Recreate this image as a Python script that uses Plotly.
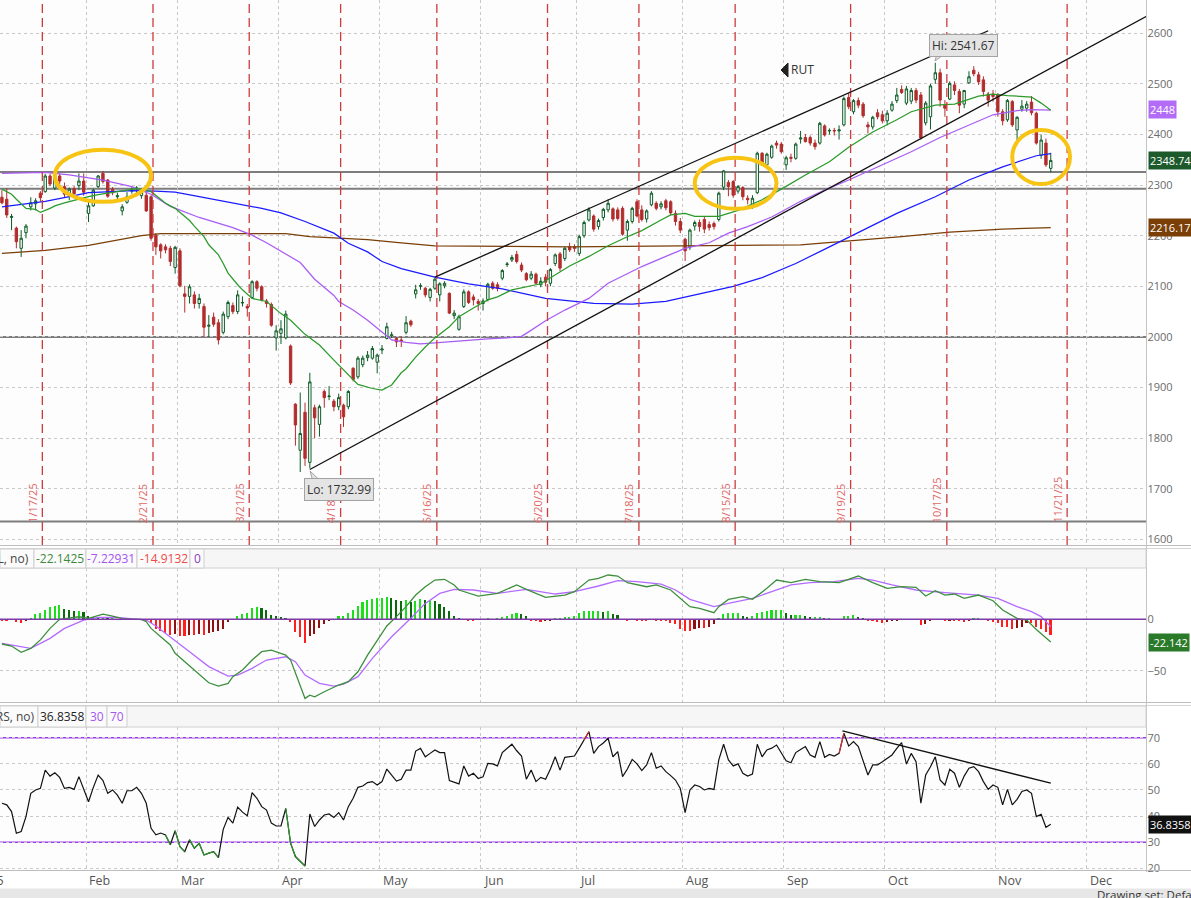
import pandas as pd
import plotly.graph_objects as go

W, H = 1191, 898          # reference picture size (all layout below is measured in these pixels)
FIG_H = 903               # rendered page height (the capture is scaled back to 898)
XR = 1146.5 / W

# ---------------- calendar (trading days) ----------------
HOLIDAYS = {"2025-01-01", "2025-01-09", "2025-01-20", "2025-02-17", "2025-04-18", "2025-05-26",
            "2025-06-19", "2025-07-04", "2025-09-01", "2025-11-27", "2025-12-25", "2026-01-01",
            "2026-01-19"}
cal = [d for d in pd.bdate_range("2025-01-02", "2026-01-30") if d.strftime("%Y-%m-%d") not in HOLIDAYS]
cal_str = [d.strftime("%Y-%m-%d") for d in cal]
B0 = cal_str.index("2025-01-17")   # bar 0 = 1/17/25


def at(date):
    d = pd.Timestamp(date)
    return max(i for i, c in enumerate(cal) if c <= d)


def fx(px):
    return px / W


def fy(py):
    return 1 - py / H


# ---------------- price data (bars -9 .. 210, Jan 3 .. Nov 18 2025) ----------------
first_bar = -9
opens = [2240, 2276, 2272, 2236, 2215, 2175, 2206, 2257, 2263, 2284,
         2287, 2318, 2294, 2318, 2297, 2282, 2293, 2299, 2308, 2244,
         2259, 2297, 2323, 2310, 2292, 2277, 2249, 2266, 2288, 2292,
         2279, 2280, 2277, 2201, 2182, 2178, 2175, 2137, 2170, 2085,
         2080, 2083, 2066, 2060, 2021, 2039, 2028, 2009, 2040, 2062,
         2050, 2067, 2060, 2078, 2109, 2099, 2071, 2064, 1998, 2007,
         1998, 1982, 1867, 1776, 1851, 1752, 1860, 1827, 1892, 1882,
         1873, 1862, 1865, 1862, 1938, 1921, 1945, 1959, 1958, 1950,
         1974, 1997, 2002, 1997, 1994, 2009, 2031, 2085, 2100, 2096,
         2078, 2096, 2083, 2101, 2086, 2042, 2015, 2060, 2089, 2079,
         2070, 2066, 2074, 2106, 2103, 2116, 2143, 2152, 2163, 2142,
         2125, 2116, 2124, 2103, 2118, 2106, 2145, 2164, 2155, 2178,
         2178, 2165, 2200, 2231, 2239, 2218, 2236, 2251, 2253, 2251,
         2254, 2211, 2228, 2267, 2251, 2233, 2261, 2264, 2257, 2269,
         2267, 2244, 2228, 2193, 2178, 2219, 2226, 2232, 2222, 2224,
         2232, 2296, 2305, 2307, 2288, 2295, 2274, 2257, 2285, 2363,
         2340, 2355, 2383, 2381, 2340, 2355, 2353, 2391, 2394, 2394,
         2383, 2383, 2417, 2407, 2408, 2407, 2419, 2473, 2445, 2467,
         2460, 2419, 2415, 2443, 2439, 2427, 2448, 2467, 2489, 2462,
         2466, 2487, 2478, 2423, 2435, 2509, 2522, 2458, 2470, 2498,
         2485, 2460, 2502, 2527, 2518, 2508, 2480, 2480, 2479, 2445,
         2429, 2465, 2409, 2450, 2452, 2464, 2442, 2359, 2383, 2333]
highs = [2272, 2290, 2294, 2243, 2218, 2211, 2223, 2276, 2274, 2288,
         2322, 2322, 2318, 2322, 2305, 2295, 2298, 2323, 2323, 2270,
         2293, 2320, 2328, 2312, 2296, 2285, 2262, 2286, 2296, 2298,
         2290, 2287, 2280, 2205, 2185, 2183, 2180, 2180, 2175, 2101,
         2104, 2090, 2085, 2066, 2043, 2048, 2035, 2050, 2072, 2068,
         2092, 2080, 2065, 2112, 2112, 2102, 2075, 2068, 2023, 2033,
         2052, 1985, 1869, 1890, 1870, 1929, 1866, 1866, 1896, 1903,
         1877, 1888, 1868, 1895, 1940, 1962, 1963, 1972, 1982, 1967,
         1984, 2028, 2010, 2000, 2000, 2041, 2034, 2103, 2106, 2099,
         2097, 2118, 2108, 2110, 2088, 2053, 2044, 2094, 2092, 2084,
         2075, 2076, 2107, 2110, 2108, 2134, 2148, 2162, 2170, 2147,
         2128, 2130, 2127, 2118, 2124, 2136, 2165, 2168, 2178, 2186,
         2183, 2202, 2230, 2256, 2242, 2234, 2255, 2272, 2256, 2256,
         2258, 2232, 2257, 2272, 2260, 2252, 2288, 2268, 2268, 2273,
         2270, 2250, 2235, 2196, 2214, 2230, 2232, 2238, 2228, 2228,
         2287, 2330, 2310, 2310, 2300, 2298, 2280, 2280, 2366, 2365,
         2364, 2380, 2388, 2385, 2358, 2362, 2384, 2407, 2401, 2398,
         2390, 2425, 2420, 2412, 2413, 2418, 2475, 2482, 2470, 2473,
         2464, 2425, 2437, 2450, 2447, 2448, 2466, 2492, 2497, 2496,
         2492, 2492, 2484, 2466, 2500, 2541.67, 2530, 2468, 2505, 2505,
         2490, 2488, 2525, 2535, 2524, 2515, 2484, 2488, 2482, 2450,
         2470, 2468, 2436, 2468, 2466, 2476, 2445, 2400, 2392, 2364]
lows = [2236, 2262, 2235, 2211, 2175, 2158, 2195, 2250, 2250, 2268,
        2285, 2298, 2290, 2300, 2275, 2270, 2277, 2290, 2279, 2227,
        2257, 2294, 2303, 2275, 2280, 2268, 2240, 2263, 2283, 2278,
        2273, 2247, 2190, 2162, 2155, 2165, 2140, 2125, 2098, 2048,
        2066, 2056, 2056, 2000, 2000, 2020, 1985, 2005, 2035, 2045,
        2045, 2060, 2040, 2075, 2090, 2070, 2058, 2020, 1973, 1986,
        1995, 1905, 1785, 1733, 1745, 1740, 1800, 1803, 1860, 1875,
        1853, 1855, 1822, 1857, 1912, 1917, 1940, 1952, 1955, 1928,
        1966, 1995, 1998, 1980, 1980, 2005, 2020, 2076, 2093, 2078,
        2070, 2093, 2070, 2096, 2045, 2035, 2012, 2057, 2065, 2062,
        2052, 2052, 2070, 2093, 2090, 2112, 2138, 2148, 2145, 2128,
        2110, 2112, 2104, 2098, 2100, 2100, 2140, 2130, 2150, 2168,
        2168, 2160, 2196, 2228, 2208, 2212, 2230, 2246, 2228, 2230,
        2200, 2190, 2224, 2236, 2228, 2226, 2258, 2250, 2252, 2250,
        2240, 2220, 2205, 2150, 2172, 2210, 2208, 2205, 2210, 2212,
        2228, 2290, 2278, 2275, 2283, 2270, 2262, 2253, 2282, 2338,
        2336, 2352, 2372, 2362, 2330, 2345, 2350, 2382, 2384, 2378,
        2370, 2380, 2396, 2400, 2398, 2390, 2416, 2450, 2440, 2452,
        2433, 2402, 2410, 2430, 2422, 2418, 2445, 2462, 2480, 2458,
        2460, 2462, 2390, 2418, 2410, 2500, 2455, 2435, 2468, 2478,
        2442, 2452, 2500, 2515, 2498, 2475, 2455, 2465, 2435, 2418,
        2425, 2415, 2385, 2445, 2445, 2438, 2380, 2352, 2336, 2325]
closes = [2268, 2265, 2241, 2238, 2188, 2195, 2219, 2265, 2269, 2275,
          2318, 2302, 2315, 2308, 2282, 2292, 2283, 2308, 2286, 2259,
          2290, 2318, 2307, 2278, 2285, 2279, 2257, 2277, 2291, 2294,
          2286, 2249, 2195, 2178, 2170, 2172, 2149, 2177, 2101, 2080,
          2099, 2066, 2076, 2019, 2023, 2025, 1994, 2045, 2068, 2050,
          2083, 2068, 2057, 2109, 2096, 2073, 2066, 2023, 2012, 2016,
          2045, 1909, 1826, 1809, 1760, 1911, 1840, 1862, 1880, 1883,
          1862, 1880, 1842, 1892, 1916, 1958, 1958, 1964, 1977, 1964,
          1976, 2020, 2004, 1990, 1991, 2028, 2024, 2093, 2101, 2083,
          2094, 2114, 2105, 2106, 2047, 2047, 2040, 2089, 2068, 2073,
          2066, 2071, 2104, 2096, 2096, 2131, 2144, 2157, 2149, 2132,
          2113, 2124, 2106, 2110, 2108, 2133, 2162, 2136, 2175, 2172,
          2175, 2198, 2226, 2251, 2213, 2230, 2252, 2264, 2233, 2234,
          2203, 2228, 2254, 2239, 2232, 2249, 2284, 2254, 2263, 2255,
          2245, 2228, 2211, 2170, 2211, 2226, 2218, 2213, 2216, 2218,
          2284, 2328, 2297, 2280, 2297, 2277, 2271, 2274, 2363, 2340,
          2361, 2377, 2379, 2366, 2354, 2353, 2381, 2393, 2386, 2383,
          2376, 2422, 2399, 2408, 2407, 2409, 2471, 2455, 2467, 2458,
          2437, 2415, 2434, 2435, 2427, 2442, 2460, 2478, 2483, 2490,
          2487, 2468, 2393, 2462, 2496, 2522, 2468, 2452, 2501, 2487,
          2458, 2487, 2514, 2520, 2504, 2485, 2468, 2475, 2445, 2427,
          2467, 2419, 2434, 2456, 2460, 2443, 2383, 2389, 2340, 2348.74]

# ---------------- moving averages (read at sampled bars) ----------------
ma_green_bar = [-8, -6, -5, -4, -3, -1, 0, 2, 3, 5, 8, 10, 12, 14, 16, 18, 20, 22, 23, 25, 26, 28, 30, 31, 32,
                33, 34, 35, 37, 38, 39, 41, 42, 44, 47, 50, 52, 55, 58, 61, 63, 66, 69, 71, 73, 75, 76, 78, 80,
                82, 85, 87, 90, 93, 95, 98, 104, 110, 114, 118, 122, 125, 129, 131, 134, 136, 138, 141, 144,
                145, 150, 154, 159, 164, 168, 173, 178, 181, 186, 190, 195, 198, 201, 206, 208, 210]
ma_green_val = [2292, 2282, 2272, 2263, 2254, 2252, 2246, 2254, 2259, 2265, 2273, 2277, 2281, 2284, 2287, 2290,
                2293, 2290, 2287, 2272, 2264, 2254, 2239, 2230, 2219, 2209, 2198, 2182, 2162, 2145, 2126, 2103,
                2093, 2076, 2070, 2046, 2033, 2005, 1984, 1954, 1935, 1906, 1898, 1895, 1905, 1929, 1937, 1960,
                1980, 1998, 2020, 2040, 2057, 2073, 2079, 2093, 2105, 2140, 2159, 2180, 2198, 2210, 2231, 2241,
                2244, 2238, 2238, 2238, 2247, 2250, 2271, 2292, 2320, 2346, 2375, 2405, 2429, 2445, 2458, 2460,
                2476, 2480, 2477, 2474, 2462, 2448]
ma_purple_bar = [-8, 1, 6, 13, 19, 23, 27, 33, 40, 44, 47, 50, 54, 57, 61, 62, 65, 68, 71, 73, 76, 79, 82, 87,
                 93, 97, 100, 101, 105, 109, 114, 118, 125, 130, 134, 139, 143, 147, 152, 158, 163, 168, 175,
                 181, 187, 193, 198, 203, 206, 210]
ma_purple_val = [2323, 2325, 2320, 2310, 2297, 2282, 2258, 2236, 2216, 2201, 2186, 2170, 2147, 2114, 2082, 2070,
                 2053, 2033, 2010, 1994, 1989, 1986, 1988, 1992, 1996, 1998, 2001, 2007, 2032, 2053, 2076, 2106,
                 2139, 2159, 2175, 2186, 2205, 2218, 2237, 2268, 2290, 2310, 2340, 2366, 2394, 2419, 2439, 2447,
                 2449, 2448]
ma_blue_bar = [-8, -4, 1, 6, 10, 15, 19, 24, 28, 33, 40, 46, 50, 55, 61, 64, 68, 71, 75, 82, 89, 96, 105, 115,
               123, 130, 137, 144, 150, 157, 164, 171, 178, 186, 193, 200, 207, 210]
ma_blue_val = [2257, 2262, 2268, 2277, 2285, 2287, 2289, 2288, 2286, 2277, 2264, 2254, 2245, 2228, 2205, 2185,
               2168, 2149, 2135, 2118, 2105, 2095, 2076, 2066, 2065, 2070, 2085, 2100, 2117, 2145, 2178, 2211,
               2244, 2277, 2310, 2336, 2358, 2362]
ma_brown_bar = [-8, 1, 10, 16, 21, 25, 40, 51, 56, 61, 68, 75, 82, 110, 137, 158, 179, 189, 200, 210]
ma_brown_val = [2165, 2171, 2181, 2191, 2200, 2204, 2204, 2204, 2198, 2195, 2192, 2186, 2180, 2178, 2180, 2182,
                2198, 2207, 2213, 2216.17]

# ---------------- MACD ----------------
macd_bar = [-8, -6, -4, -2, 0, 2, 4, 6, 8, 10, 12, 13, 15, 17, 19, 21, 22, 23, 25, 27,
            28, 30, 31, 33, 35, 37, 39, 40, 42, 44, 46, 48, 51, 52, 53, 54, 55, 56, 57, 59,
            62, 64, 66, 68, 70, 72, 74, 76, 78, 80, 82, 84, 86, 87, 91, 95, 99, 101, 105, 109,
            111, 114, 116, 118, 120, 122, 126, 128, 131, 133, 135, 137, 140, 141, 143, 146, 148, 151, 153, 156,
            159, 162, 166, 170, 173, 176, 179, 182, 184, 186, 188, 190, 192, 195, 198, 200, 203, 205, 207, 210]
macd_val = [-24, -26, -32, -28.3, -20, -8.8, 0, 1, 2.5, 1, 4.2, 5.1, 3.2, 0.6, 0, 0, -2.3, -8.8, -16.9, -25,
            -33, -41.2, -46, -54, -61.7, -65, -62.3, -55.8, -49.3, -39.6, -31.5, -29.9, -34.8, -39.6, -52.6,
            -65.5, -76.9, -73.7, -75.3, -70.4,
            -63.9, -60.7, -51, -34.8, -20.1, -6.5, 2.6, 12.3, 23.6, 31.7, 38.2, 38.9, 33.4, 28.5, 22.6, 25.2,
            33.4, 29.1, 21.4, 23.6,
            26.9, 38.2, 39.8, 43.1, 42.1, 35.6, 31.7, 33.4, 28.5, 20.4, 12.3, 10.6, 6.4, 12.3, 19.4, 22, 19.4,
            30.1, 38.2, 35.6,
            38.9, 36.6, 35.6, 42.1, 35.6, 30.1, 31.7, 31.1, 22.6, 27.8, 23.6, 24.6, 20.4, 23.6, 18.1, 9, 1,
            -0.7, -9.8, -22.1425]
sig_bar = [-8, -2, 2, 5, 9, 12, 16, 20, 22, 24, 27, 31, 35, 39, 41, 44, 47, 51, 53, 55,
           58, 61, 63, 66, 69, 73, 77, 80, 83, 86, 90, 95, 101, 107, 111, 116, 120, 124, 129, 132,
           135, 140, 143, 148, 152, 156, 160, 165, 170, 173, 177, 182, 188, 195, 199, 203, 206, 208, 210]
sig_val = [-23.4, -28.3, -18.5, -8.8, -0.7, 1.9, 1.9, 0.6, -0.7, -6.5, -16.9, -31.5, -46, -55.2, -54.2, -47.7,
           -39.6, -36.4, -41.2, -54.2, -62.3, -64.9, -63, -55.8, -38, -16.9, 1, 15.5, 25.2, 29.1, 28.5, 25.2,
           29.1, 24.6, 26.9, 32.4, 37.6, 36.6, 34.3, 28.5, 19.4, 12.3, 15.5, 20.4, 26.9, 33.4, 35.6, 36.6,
           39.8, 38.2, 33.4, 28.5, 25.9, 23.6, 20.4, 12.3, 7.4, 2.6, -7.22931]
hist_first_bar = -8
hist_val = [-1, -1, 0, -3, -4, -2, 1, 5, 6, 9,
            12, 13, 14, 10, 9, 8, 8, 7, 3, 2,
            1, 1, 0.5, 0.5, 0.3, -0.3, -0.2, 0.2, 0.3, -0.5,
            -2, -4, -9, -11, -13, -15, -14, -16, -16, -15,
            -15.5, -14, -15, -13, -12, -11, -9, -3, -0.5, 3,
            5, 6, 11, 12, 11, 9, 4, 3, 2, 1,
            -3, -12, -17, -23, -16, -14, -8, -5, -1, 0.3,
            3, 3, 6, 9, 13, 17, 19, 20, 21, 21,
            22, 21, 19, 18, 19, 17, 18, 20, 19, 19,
            18, 15, 12, 8, 3, 0.5, 0.3, -1, -1, -0.5,
            -0.3, 0.5, 0.3, 0.5, 2, 3, 5, 6, 5, 3,
            -1, -2, -3, -2, -1, 1, 1, 2, 2, 3,
            6, 8, 8, 8, 8, 7, 8, 5, 4, 0.3,
            -1, -0.5, -1, -2, -2, -0.5, -1, -1, -2, -4,
            -5, -9, -11, -11, -9, -8, -8, -7, -5, 1,
            5, 6, 6, 6, 3, 2, 3, 6, 7, 8,
            9, 9, 9, 6, 4, 4, 4, 3, 2, 2,
            2, 1, 1, 0.3, 0.3, 3, 3, 4, 2, 1,
            -1, -2, -3, -4, -3, -2, -1, -0.5, -0.5, -0.5,
            -0.5, -6, -5, -2, -0.5, -0.5, -2, -1, -1, -2,
            -3, -1, 1, 1, 0.3, -2, -3, -4, -7, -7,
            -9, -8, -7, -4, -4, -7, -9, -12, -14.9132]

# ---------------- RSI ----------------
rsi_first_bar = -8
rsi_val = [44.9, 44.3, 41.7, 33.4, 34.1, 39.8, 48.7, 50, 50.6, 57.6,
           55.3, 56.6, 54.8, 50.6, 51, 50.2, 55.1, 50, 45.5, 51,
           55.7, 53.6, 48.7, 50, 48, 44.9, 49.7, 49.7, 51, 48.7,
           44.9, 35.3, 32.8, 33.5, 32.8, 29, 34.4, 28.3, 26.4, 30.9,
           27.7, 29.6, 25.1, 25.8, 26.4, 24.1, 34.9, 39.5, 37.3, 43.4,
           41.5, 40.1, 49, 46.8, 43.6, 42.3, 37.3, 36.2, 36.2, 42.9,
           29.6, 24.5, 22.6, 20.9, 40.8, 36, 38.5, 40.4, 40.8, 39.5,
           41.3, 38.5, 43.6, 46.8, 51, 51.5, 52.8, 53.2, 51.9, 53.2,
           58, 55.7, 53.4, 54.1, 57.6, 57.6, 64.9, 65.9, 62.7, 64,
           65.3, 64.3, 64.3, 53.6, 53, 52.3, 59.2, 55.3, 56.4, 54.4,
           55, 60.2, 60, 59.2, 64.3, 66, 67.5, 65, 63, 54.1,
           57.6, 53.2, 54.8, 54.1, 58, 62.7, 57.6, 62.5, 62.7, 63,
           66, 69.1, 72.3, 64, 66.6, 68, 69.8, 62.7, 64.7, 55.1,
           58, 61.7, 60, 57.4, 59.6, 64.3, 58.3, 59.2, 57, 55.5,
           53.8, 50.6, 41.3, 50, 51.9, 51.3, 50, 50.6, 50.2, 61.5,
           67.5, 61.5, 59.2, 60, 56.4, 55.3, 56.1, 67.5, 62.7, 65.3,
           66, 67.2, 64, 61.2, 60.4, 64.3, 65.5, 66.6, 63.4, 62.5,
           68.5, 62.5, 63.6, 63, 64, 71.7, 66.8, 68.5, 66.6, 61,
           55.7, 59.6, 59.6, 60.8, 62, 63.4, 65.9, 68.1, 59.9, 64,
           60.8, 44.9, 55.7, 58.9, 62.7, 53.8, 51.9, 57.9, 56.4, 51,
           55.3, 58.3, 58.9, 57, 53.2, 50.2, 51.9, 51, 44.3, 50.2,
           44.3, 46.4, 49.4, 50, 48.7, 39.8, 40.7, 35.7, 36.8358]
rsi_trend_dates = ["2025-09-18", "2025-11-18"]
rsi_trend_vals = [72.6, 52.6]

# ---------------- drawings ----------------
expiry_dates = ["2025-01-17", "2025-02-21", "2025-03-21", "2025-04-18", "2025-05-16", "2025-06-20",
                "2025-07-18", "2025-08-15", "2025-09-19", "2025-10-17", "2025-11-21"]
expiry_labels = ["1/17/25", "2/21/25", "3/21/25", "4/18/25", "5/16/25", "6/20/25",
                 "7/18/25", "8/15/25", "9/19/25", "10/17/25", "11/21/25"]
support_levels = [2326, 2293, 2000, 1635]
chan_upper_dates = ["2025-05-16", "2025-10-30"]
chan_upper_prices = [2118, 2605]
chan_lower_dates = ["2025-04-09", "2025-12-17"]
chan_lower_prices = [1738, 2634]
ring_x0 = ["2025-01-23", "2025-08-05", "2025-11-06"]
ring_x1 = ["2025-02-21", "2025-08-28", "2025-11-24"]
ring_y0 = [2267, 2253, 2302]
ring_y1 = [2370, 2354, 2409]
month_names = ["Feb", "Mar", "Apr", "May", "Jun", "Jul", "Aug", "Sep", "Oct", "Nov", "Dec"]
month_starts = ["2025-02-01", "2025-03-01", "2025-04-01", "2025-05-01", "2025-06-01", "2025-07-01",
                "2025-08-01", "2025-09-01", "2025-10-01", "2025-11-01", "2025-12-01"]

# ---------------- colours ----------------
UP = "#0d5c27"
DN = "#b22d2d"
C_GREEN = "#2b9a2b"
C_PURPLE = "#a95cf5"
C_BLUE = "#1a1aff"
C_BROWN = "#7a3e07"
GRID = "#c9c9c9"
FONT = "Open Sans"

fig = go.Figure()

cx = [B0 + first_bar + i for i in range(len(opens))]
cdates = [cal_str[i] for i in cx]
fig.add_trace(go.Candlestick(
    x=cx, open=opens, high=highs, low=lows, close=closes, text=cdates,
    increasing=dict(line=dict(color=UP, width=1), fillcolor="white"),
    decreasing=dict(line=dict(color=DN, width=1), fillcolor=DN),
    whiskerwidth=0, xaxis="x", yaxis="y", hoverinfo="skip"))

for bars, vals, col in [(ma_brown_bar, ma_brown_val, C_BROWN), (ma_blue_bar, ma_blue_val, C_BLUE),
                        (ma_purple_bar, ma_purple_val, C_PURPLE), (ma_green_bar, ma_green_val, C_GREEN)]:
    fig.add_trace(go.Scatter(x=[B0 + b for b in bars], y=vals, mode="lines",
                             line=dict(color=col, width=1.25), xaxis="x", yaxis="y", hoverinfo="skip"))

# MACD histogram
hx = [B0 + hist_first_bar + i for i in range(len(hist_val))]
hcol = []
prev = 0
for v in hist_val:
    if v >= 0:
        hcol.append("#19e019" if v >= prev else "#0b6a0b")
    else:
        hcol.append("#ff1f1f" if v <= prev else "#8e1010")
    prev = v
fig.add_trace(go.Bar(x=hx, y=hist_val, marker=dict(color=hcol, line=dict(width=0)), width=0.33,
                     xaxis="x2", yaxis="y2", hoverinfo="skip"))
fig.add_trace(go.Scatter(x=[B0 + b for b in sig_bar], y=sig_val, mode="lines",
                         line=dict(color="#b36bff", width=1.3), xaxis="x2", yaxis="y2", hoverinfo="skip"))
fig.add_trace(go.Scatter(x=[B0 + b for b in macd_bar], y=macd_val, mode="lines",
                         line=dict(color="#3d8f3d", width=1.3), xaxis="x2", yaxis="y2", hoverinfo="skip"))

# RSI
rx = [B0 + rsi_first_bar + i for i in range(len(rsi_val))]
fig.add_trace(go.Scatter(x=rx, y=rsi_val, mode="lines", line=dict(color="#111111", width=1.2),
                         xaxis="x3", yaxis="y3", hoverinfo="skip"))
gx, gy, redx, redy = [], [], [], []
for i in range(1, len(rsi_val)):
    if rsi_val[i] < 30:
        gx += [rx[i - 1], rx[i], None]
        gy += [rsi_val[i - 1], rsi_val[i], None]
    elif rsi_val[i] > 70:
        redx += [rx[i - 1], rx[i], None]
        redy += [rsi_val[i - 1], rsi_val[i], None]
fig.add_trace(go.Scatter(x=gx, y=gy, mode="lines", line=dict(color="#2e9a2e", width=1.2),
                         xaxis="x3", yaxis="y3", hoverinfo="skip"))
fig.add_trace(go.Scatter(x=redx, y=redy, mode="lines", line=dict(color="#d03030", width=1.2),
                         xaxis="x3", yaxis="y3", hoverinfo="skip"))

shapes = []
ann = []

# support lines
for lv in support_levels:
    shapes.append(dict(type="line", xref="paper", yref="y", x0=0, x1=XR, y0=lv, y1=lv,
                       line=dict(color="#7d7d7d", width=2), layer="below"))
# expiry lines & labels
for d, lab in zip(expiry_dates, expiry_labels):
    xv = at(d) + 0.4
    shapes.append(dict(type="line", xref="x", yref="paper", x0=xv, x1=xv, y0=fy(545), y1=1,
                       line=dict(color="#cc3b3b", width=1.3, dash="9px,5px")))
    ann.append(dict(x=xv, xref="x", y=fy(525), yref="paper", text=lab, textangle=-90, showarrow=False,
                    xanchor="right", yanchor="bottom", xshift=-1,
                    font=dict(family=FONT, size=11, color="#e06666")))
# channel lines
shapes.append(dict(type="line", xref="x", yref="y", x0=at(chan_upper_dates[0]), x1=at(chan_upper_dates[1]),
                   y0=chan_upper_prices[0], y1=chan_upper_prices[1], line=dict(color="#111111", width=1.3)))
shapes.append(dict(type="line", xref="x", yref="y", x0=at(chan_lower_dates[0]), x1=at(chan_lower_dates[1]),
                   y0=chan_lower_prices[0], y1=chan_lower_prices[1], line=dict(color="#111111", width=1.3)))
# rings
for a, b, c, d in zip(ring_x0, ring_x1, ring_y0, ring_y1):
    shapes.append(dict(type="circle", xref="x", yref="y", x0=at(a), x1=at(b), y0=c, y1=d,
                       line=dict(color="#f7c414", width=4)))
# RSI trend line and levels
shapes.append(dict(type="line", xref="x3", yref="y3", x0=at(rsi_trend_dates[0]) - 0.3,
                   x1=at(rsi_trend_dates[1]), y0=rsi_trend_vals[0], y1=rsi_trend_vals[1],
                   line=dict(color="#111111", width=1.4)))
for lv in (30, 70):
    shapes.append(dict(type="line", xref="paper", yref="y3", x0=0, x1=XR, y0=lv, y1=lv,
                       line=dict(color="#9b3cf2", width=1.5), layer="below"))
shapes.append(dict(type="line", xref="paper", yref="y2", x0=0, x1=XR, y0=0, y1=0,
                   line=dict(color="#7d3aa8", width=1.5)))


# panel frames / separators
def hline(py, col="#c8c8c8", w=1, x1=1.0):
    shapes.append(dict(type="line", xref="paper", yref="paper", x0=0, x1=x1, y0=fy(py), y1=fy(py),
                       line=dict(color=col, width=w)))


def rect(x0, y0, x1, y1, fill, border="#d2d2d2"):
    shapes.append(dict(type="rect", xref="paper", yref="paper", x0=fx(x0), x1=fx(x1), y0=fy(y1), y1=fy(y0),
                       fillcolor=fill, line=dict(color=border, width=1), layer="above"))


def tri(pts, fill, border):
    p = " L ".join(f"{fx(a)},{fy(b)}" for a, b in pts)
    shapes.append(dict(type="path", xref="paper", yref="paper", path=f"M {p} Z",
                       fillcolor=fill, line=dict(color=border, width=1)))


hline(545.5, "#bdbdbd", 1.2)
hline(548.5, "#d5d5d5", 1)
hline(702.5, "#bdbdbd", 1.2)
hline(705.5, "#d5d5d5", 1)
hline(870.5, "#bdbdbd", 1.2)
shapes.append(dict(type="line", xref="paper", yref="paper", x0=XR, x1=XR, y0=fy(872), y1=1,
                   line=dict(color="#c4c4c4", width=1)))
# header strips
rect(0, 549, 1146, 568, "#f6f6f6")
rect(0, 706, 1146, 727, "#f6f6f6")
macd_cells = [(0, 34), (34, 86), (86, 137), (137, 190), (190, 204)]
for a, b in macd_cells:
    rect(a, 549, b, 568, "#fbfbfb", "#cfcfcf")
rsi_cells = [(0, 38), (38, 86), (86, 107), (107, 127)]
for a, b in rsi_cells:
    rect(a, 706, b, 727, "#fbfbfb", "#cfcfcf")
# status bar
rect(0, 889, 1191, 898, "#e7e7e7", "#e7e7e7")

# triangle for RUT label and callout pointers
tri([(781, 70), (788, 63), (788, 77)], "#222222", "#222222")
tri([(310, 471), (313, 481.5), (321, 481.5)], "#e4e4e4", "#a3a3a3")
tri([(935, 61), (937, 53.5), (945, 53.5)], "#e4e4e4", "#a3a3a3")

hf = dict(family=FONT, size=12)
macd_texts = [("MACD(12, 26, 9, EXPONENTIAL, no)", "#444444"), ("-22.1425", "#3d8a3d"), ("-7.22931", "#a455f0"),
              ("-14.9132", "#f04848"), ("0", "#8a3fc0")]
for (a, b), (t, c) in zip(macd_cells, macd_texts):
    if a == 0:
        ann.append(dict(x=fx(b - 3), y=fy(558.5), xref="paper", yref="paper", text=t, showarrow=False,
                        xanchor="right", yanchor="middle", font=dict(hf, color=c)))
    else:
        ann.append(dict(x=fx((a + b) / 2), y=fy(558.5), xref="paper", yref="paper", text=t, showarrow=False,
                        xanchor="center", yanchor="middle", font=dict(hf, color=c)))
rsi_texts = [("RSI(14, 70, 30, WILDERS, no)", "#444444"), ("36.8358", "#222222"), ("30", "#a455f0"),
             ("70", "#a455f0")]
for (a, b), (t, c) in zip(rsi_cells, rsi_texts):
    if a == 0:
        ann.append(dict(x=fx(b - 1), y=fy(716.5), xref="paper", yref="paper", text=t, showarrow=False,
                        xanchor="right", yanchor="middle", font=dict(hf, color=c)))
    else:
        ann.append(dict(x=fx((a + b) / 2), y=fy(716.5), xref="paper", yref="paper", text=t, showarrow=False,
                        xanchor="center", yanchor="middle", font=dict(hf, color=c)))

# month labels (gridlines sit half a bar before the first trading day of each month)
month_x = [cal_str.index(cal[at(m)].strftime("%Y-%m-%d")) + (0.5 if m not in cal_str else -0.5)
           for m in month_starts]
for name, xv in zip(month_names, month_x):
    ann.append(dict(x=xv, xref="x3", y=fy(880), yref="paper", text=name, showarrow=False,
                    xanchor="left", yanchor="middle", xshift=1, font=dict(family=FONT, size=12.5, color="#555555")))
ann.append(dict(x=fx(6), y=fy(880), xref="paper", yref="paper", text="2025", showarrow=False,
                xanchor="right", yanchor="middle", font=dict(family=FONT, size=12.5, color="#555555")))

# hi / lo callouts
ann.append(dict(x=at("2025-04-09"), xref="x", y=fy(489), yref="paper", text="Lo: 1732.99", showarrow=False,
                xanchor="left", yanchor="middle", xshift=-6, bgcolor="#e4e4e4", bordercolor="#a3a3a3",
                borderwidth=1, borderpad=2, font=dict(family=FONT, size=12, color="#333333")))
ann.append(dict(x=at("2025-10-15"), xref="x", y=fy(45), yref="paper", text="Hi: 2541.67", showarrow=False,
                xanchor="left", yanchor="middle", xshift=-6, bgcolor="#e4e4e4", bordercolor="#a3a3a3",
                borderwidth=1, borderpad=2, font=dict(family=FONT, size=12, color="#333333")))
ann.append(dict(x=fx(789), y=fy(70), xref="paper", yref="paper", text="RUT", showarrow=False,
                xanchor="left", yanchor="middle", font=dict(family=FONT, size=12, color="#333333")))

# right axis tags
tags = [("y", 2450, "2448", "#b36cf7", "white"), ("y", 2348.74, "2348.74", "#1c5a2c", "white"),
        ("y", 2216.17, "2216.17", "#7a3e07", "white"), ("y2", -22.14, "-22.142", "#2a7a2a", "white"),
        ("y3", 36.84, "36.8358", "#111111", "white")]
for yr, yv, t, bg, fg in tags:
    ann.append(dict(x=XR + 1.5 / W, xref="paper", y=yv, yref=yr, text=t, showarrow=False, xanchor="left",
                    yanchor="middle", bgcolor=bg, borderpad=1, font=dict(family=FONT, size=11, color=fg)))

ann.append(dict(x=fx(1095), y=fy(894.5), xref="paper", yref="paper", text="Drawing set: Default", showarrow=False,
                xanchor="left", yanchor="middle", font=dict(family=FONT, size=11.5, color="#333333")))

xcommon = dict(domain=[0, XR], range=[B0 - 8.4, B0 + 229.9], showgrid=True, gridcolor=GRID, griddash="dot",
               tickvals=month_x, showticklabels=False, zeroline=False, showline=False, ticks="",
               fixedrange=True)
tickfont = dict(family=FONT, size=11, color="#6b6b6b")
fig.update_layout(
    width=W, height=FIG_H, margin=dict(l=0, r=0, t=0, b=0), autosize=False,
    paper_bgcolor="white", plot_bgcolor="#fdfdfd", showlegend=False, hovermode=False,
    font=dict(family=FONT),
    xaxis=dict(xcommon, anchor="y", rangeslider=dict(visible=False)),
    xaxis2=dict(xcommon, anchor="y2", matches="x"),
    xaxis3=dict(xcommon, anchor="y3", matches="x"),
    yaxis=dict(domain=[fy(545), 1], range=[1588.7, 2665.8], side="right", anchor="x",
               tickvals=list(range(1600, 2700, 100)), showgrid=True, gridcolor=GRID, griddash="dot",
               zeroline=False, tickfont=tickfont, ticks=""),
    yaxis2=dict(domain=[fy(702), fy(568)], range=[-80.4, 49.9], side="right", anchor="x2",
                tickvals=[0, -50], showgrid=True, gridcolor=GRID, griddash="dot", zeroline=False,
                tickfont=tickfont, ticks=""),
    yaxis3=dict(domain=[fy(870), fy(727)], range=[19.35, 74.1], side="right", anchor="x3",
                tickvals=[20, 30, 40, 50, 60, 70], showgrid=True, gridcolor=GRID, griddash="dot",
                zeroline=False, tickfont=tickfont, ticks=""),
    shapes=shapes, annotations=ann, bargap=0,
)

PAGE_JS = ("document.documentElement.style.margin='0';document.body.style.margin='0';"
           "document.documentElement.style.overflow='hidden';document.body.style.overflow='hidden';"
           "var g=document.getElementById('{plot_id}');g.style.position='fixed';"
           "g.style.left='0px';g.style.top='0px';")
fig.write_html("out.html", config={"displayModeBar": False}, post_script=PAGE_JS)
